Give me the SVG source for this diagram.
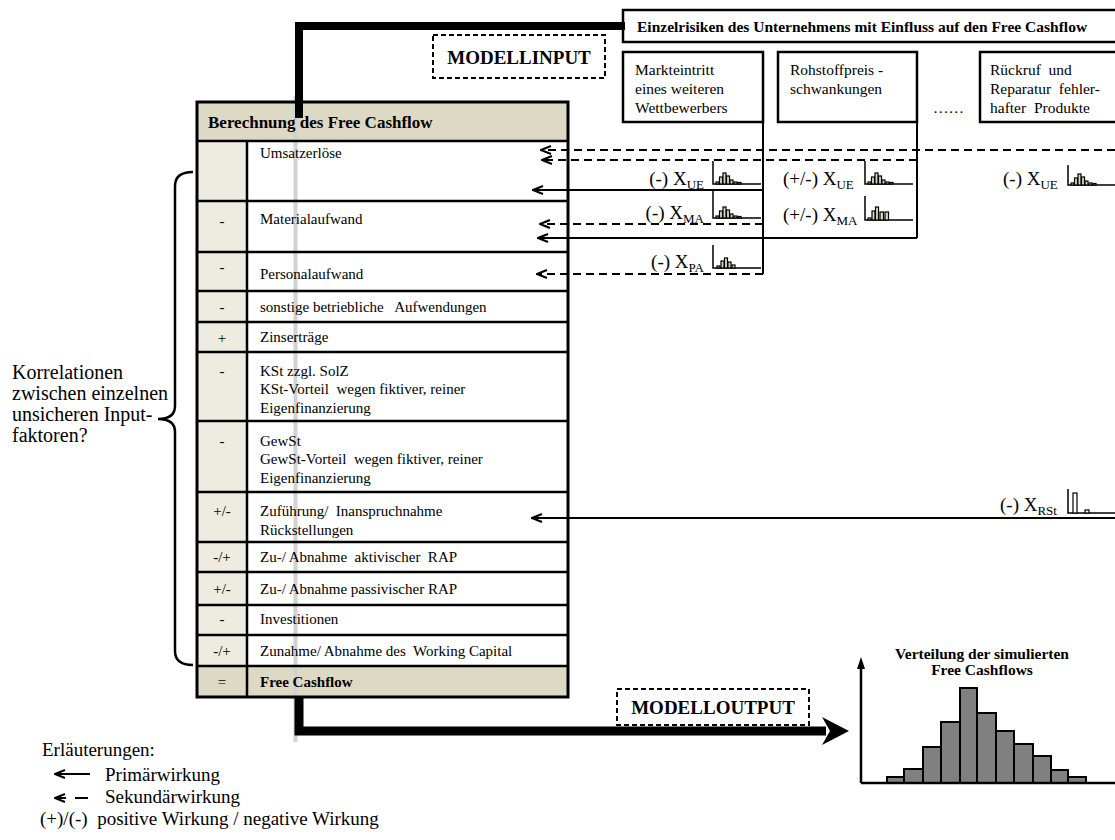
<svg xmlns="http://www.w3.org/2000/svg" width="1115" height="840" viewBox="0 0 1115 840">
<defs>
<style>
text{font-family:"Liberation Serif","Times New Roman",serif;fill:#000;white-space:pre}
.row{font-size:15px}
.b{font-weight:bold}
.sign{font-size:15px;text-anchor:middle}
.box{fill:#fff;stroke:#000;stroke-width:2.5}
.rbox{font-size:15.5px}
.conn{stroke:#000;stroke-width:2;fill:none}
.dash{stroke-dasharray:8 5}
.thick{stroke:#000;stroke-width:8;fill:none}
.ico{fill:none;stroke:#000;stroke-width:1.5}
.bar{fill:#ddd9c4;stroke:#000;stroke-width:1.2}
.lbl{font-size:19px}
.sub{font-size:13px}
.hd{fill:#ddd9c4}
.lc{fill:#eeece1}
.grid{stroke:#000;stroke-width:2.5;fill:none}
.hbar{fill:#808080;stroke:#000;stroke-width:2}
</style>
<marker id="ah" markerWidth="12" markerHeight="10" refX="11" refY="5" orient="auto" markerUnits="userSpaceOnUse">
<path d="M1,1 L11,5 L1,9" fill="none" stroke="#000" stroke-width="2"/>
</marker>
</defs>
<rect width="1115" height="840" fill="#fff"/>

<!-- header of risks -->
<g id="risk-header">
<rect class="box" x="623" y="10" width="510" height="32"/>
<text class="b" x="637" y="32" style="font-size:15.5px">Einzelrisiken des Unternehmens mit Einfluss auf den Free Cashflow</text>
</g>

<g id="modellinput">
<rect x="433" y="35" width="172" height="43" fill="#fff" stroke="#000" stroke-width="2" stroke-dasharray="5 3"/>
<text class="b" x="519" y="64" text-anchor="middle" style="font-size:19px">MODELLINPUT</text>
</g>

<g id="risk1">
<rect class="box" x="623" y="52" width="140" height="70"/>
<text class="rbox" x="635" y="75">Markteintritt</text>
<text class="rbox" x="635" y="94">eines weiteren</text>
<text class="rbox" x="635" y="113">Wettbewerbers</text>
</g>
<g id="risk2">
<rect class="box" x="778" y="52" width="139" height="70"/>
<text class="rbox" x="790" y="75">Rohstoffpreis -</text>
<text class="rbox" x="790" y="94">schwankungen</text>
</g>
<g id="dots">
<text class="rbox" x="933" y="113">……</text>
</g>
<g id="risk3">
<rect class="box" x="980" y="52" width="150" height="70"/>
<text class="rbox" x="990" y="75">Rückruf  und</text>
<text class="rbox" x="990" y="94">Reparatur  fehler-</text>
<text class="rbox" x="990" y="113">hafter  Produkte</text>
</g>

<!-- table -->
<g id="table">
<rect class="hd" x="197" y="102" width="371" height="39"/>
<rect fill="#fff" x="197" y="141" width="371" height="525"/>
<rect class="lc" x="197" y="141" width="50" height="525"/>
<rect class="hd" x="197" y="666" width="371" height="31"/>
<rect x="293.5" y="96" width="4" height="646" fill="#d2d2d2"/>
<g class="grid">
<rect x="197" y="102" width="371" height="595" stroke-width="3"/>
<path d="M247,141 V697"/>
<path d="M197,141 H568 M197,201 H568 M197,252 H568 M197,291 H568 M197,322 H568 M197,352 H568 M197,421 H568 M197,492 H568 M197,542 H568 M197,572 H568 M197,605 H568 M197,635 H568 M197,666 H568"/>
</g>
<text class="b" x="208" y="128" style="font-size:17px">Berechnung des Free Cashflow</text>
<text class="row" x="260" y="158">Umsatzerlöse</text>
<text class="sign" x="222" y="226">-</text>
<text class="row" x="260" y="224">Materialaufwand</text>
<text class="sign" x="222" y="272">-</text>
<text class="row" x="260" y="279">Personalaufwand</text>
<text class="sign" x="222" y="312">-</text>
<text class="row" x="260" y="312">sonstige betriebliche   Aufwendungen</text>
<text class="sign" x="222" y="343">+</text>
<text class="row" x="260" y="342">Zinserträge</text>
<text class="sign" x="222" y="376">-</text>
<text class="row" x="260" y="376">KSt zzgl. SolZ</text>
<text class="row" x="260" y="394">KSt-Vorteil  wegen fiktiver, reiner</text>
<text class="row" x="260" y="413">Eigenfinanzierung</text>
<text class="sign" x="222" y="446">-</text>
<text class="row" x="260" y="446">GewSt</text>
<text class="row" x="260" y="464">GewSt-Vorteil  wegen fiktiver, reiner</text>
<text class="row" x="260" y="483">Eigenfinanzierung</text>
<text class="sign" x="222" y="516">+/-</text>
<text class="row" x="260" y="516">Zuführung/  Inanspruchnahme</text>
<text class="row" x="260" y="535">Rückstellungen</text>
<text class="sign" x="222" y="562">-/+</text>
<text class="row" x="260" y="562">Zu-/ Abnahme  aktivischer  RAP</text>
<text class="sign" x="222" y="594">+/-</text>
<text class="row" x="260" y="594">Zu-/ Abnahme passivischer RAP</text>
<text class="sign" x="222" y="624">-</text>
<text class="row" x="260" y="624">Investitionen</text>
<text class="sign" x="222" y="656">-/+</text>
<text class="row" x="260" y="656">Zunahme/ Abnahme des  Working Capital</text>
<text class="sign" x="222" y="687">=</text>
<text class="row b" x="260" y="687">Free Cashflow</text>
</g>

<!-- connectors -->
<g id="connectors">
<path class="thick" d="M299,118 V26 H625"/>
<path class="conn" d="M763,122 V274"/>
<path class="conn" d="M917,122 V238"/>
<path class="conn dash" d="M1115,150 H541" marker-end="url(#ah)"/>
<path class="conn dash" d="M917,160 H542" marker-end="url(#ah)"/>
<path class="conn" d="M763,190 H533" marker-end="url(#ah)"/>
<path class="conn dash" d="M763,224 H540" marker-end="url(#ah)"/>
<path class="conn" d="M917,238 H538" marker-end="url(#ah)"/>
<path class="conn dash" d="M763,274 H537" marker-end="url(#ah)"/>
<path class="conn" d="M1115,518 H532" marker-end="url(#ah)"/>
<path class="thick" d="M299,697 V731 H826" style="stroke-width:9"/>
<polygon points="849,731 822,717 830,731 822,745" fill="#000"/>
</g>

<!-- risk labels with small distributions -->
<g id="label-ue1">
<text class="lbl" x="704" y="185" text-anchor="end">(-) X<tspan class="sub" dy="4">UE</tspan></text>
<path class="ico" d="M713,161 V184 H761"/>
<rect class="bar" x="716" y="182" width="3" height="2"/><rect class="bar" x="719.5" y="177" width="3" height="7"/><rect class="bar" x="723" y="173" width="3" height="11"/><rect class="bar" x="726.5" y="176" width="3" height="8"/><rect class="bar" x="730" y="180" width="3" height="4"/><rect class="bar" x="734" y="182" width="3" height="2"/><rect class="bar" x="738" y="182.5" width="3" height="1.5"/>
</g>
<g id="label-ma1">
<text class="lbl" x="704" y="219" text-anchor="end">(-) X<tspan class="sub" dy="4">MA</tspan></text>
<path class="ico" d="M713,191 V218 H761"/>
<rect class="bar" x="716" y="216" width="3" height="2"/><rect class="bar" x="719.5" y="211" width="3" height="7"/><rect class="bar" x="723" y="207" width="3" height="11"/><rect class="bar" x="726.5" y="210" width="3" height="8"/><rect class="bar" x="730" y="214" width="3" height="4"/><rect class="bar" x="734" y="216" width="3" height="2"/><rect class="bar" x="738" y="216.5" width="3" height="1.5"/>
</g>
<g id="label-pa1">
<text class="lbl" x="704" y="268" text-anchor="end">(-) X<tspan class="sub" dy="4">PA</tspan></text>
<path class="ico" d="M713,245 V268 H761"/>
<rect class="bar" x="717" y="266" width="3" height="2"/><rect class="bar" x="721" y="261" width="3" height="7"/><rect class="bar" x="724.5" y="258" width="3" height="10"/><rect class="bar" x="728" y="262" width="3" height="6"/><rect class="bar" x="732" y="265" width="3" height="3"/>
</g>
<g id="label-ue2">
<text class="lbl" x="783" y="185">(+/-) X<tspan class="sub" dy="4">UE</tspan></text>
<path class="ico" d="M865,161 V184 H913"/>
<rect class="bar" x="868" y="182" width="3" height="2"/><rect class="bar" x="871.5" y="177" width="3" height="7"/><rect class="bar" x="875" y="173" width="3" height="11"/><rect class="bar" x="878.5" y="176" width="3" height="8"/><rect class="bar" x="882" y="180" width="3" height="4"/><rect class="bar" x="886" y="182" width="3" height="2"/><rect class="bar" x="890" y="182.5" width="3" height="1.5"/>
</g>
<g id="label-ma2">
<text class="lbl" x="783" y="221">(+/-) X<tspan class="sub" dy="4">MA</tspan></text>
<path class="ico" d="M865,196 V220 H913"/>
<rect class="bar" x="868" y="218" width="3" height="2"/><rect class="bar" x="872" y="211" width="3" height="9"/><rect class="bar" x="875.5" y="207" width="3" height="13"/><rect class="bar" x="880" y="212" width="3.5" height="8"/><rect class="bar" x="885" y="212" width="3.5" height="8"/>
</g>
<g id="label-ue3">
<text class="lbl" x="1003" y="185">(-) X<tspan class="sub" dy="4">UE</tspan></text>
<path class="ico" d="M1068,165 V185 H1116"/>
<rect class="bar" x="1071" y="183" width="3" height="2"/><rect class="bar" x="1074.5" y="178" width="3" height="7"/><rect class="bar" x="1078" y="174" width="3" height="11"/><rect class="bar" x="1081.5" y="177" width="3" height="8"/><rect class="bar" x="1085" y="181" width="3" height="4"/><rect class="bar" x="1089" y="183" width="3" height="2"/><rect class="bar" x="1093" y="183.5" width="3" height="1.5"/>
</g>
<g id="label-rst">
<text class="lbl" x="1000" y="511">(-) X<tspan class="sub" dy="4">RSt</tspan></text>
<path class="ico" d="M1068,489 V513 H1116"/>
<rect class="bar" x="1073" y="493" width="4" height="20" style="fill:#fff"/><rect class="bar" x="1085" y="510" width="4" height="3" style="fill:#fff"/>
</g>

<!-- bracket and correlation text -->
<g id="correlation">
<path d="M193,172 Q175,172 175,186 V406 Q175,419 158,419 Q175,419 175,432 V651 Q175,665 193,665" fill="none" stroke="#000" stroke-width="2.5"/>
<text x="12" y="379" style="font-size:20px">Korrelationen</text>
<text x="12" y="400" style="font-size:20px">zwischen einzelnen</text>
<text x="12" y="421" style="font-size:20px">unsicheren Input-</text>
<text x="12" y="442" style="font-size:20px">faktoren?</text>
</g>

<g id="modelloutput">
<rect x="617" y="689" width="192" height="36" fill="#fff" stroke="#000" stroke-width="2" stroke-dasharray="5 3"/>
<text class="b" x="713" y="714" text-anchor="middle" style="font-size:19px">MODELLOUTPUT</text>
</g>

<!-- histogram -->
<g id="histogram">
<text class="b" x="982" y="659" text-anchor="middle" style="font-size:15.5px">Verteilung der simulierten</text>
<text class="b" x="982" y="675" text-anchor="middle" style="font-size:15.5px">Free Cashflows</text>
<rect class="hbar" x="887" y="777" width="17" height="6"/>
<rect class="hbar" x="904" y="769" width="19" height="14"/>
<rect class="hbar" x="923" y="747" width="18" height="36"/>
<rect class="hbar" x="941" y="722" width="19" height="61"/>
<rect class="hbar" x="960" y="688" width="17" height="95"/>
<rect class="hbar" x="977" y="713" width="19" height="70"/>
<rect class="hbar" x="996" y="731" width="18" height="52"/>
<rect class="hbar" x="1014" y="744" width="19" height="39"/>
<rect class="hbar" x="1033" y="756" width="18" height="27"/>
<rect class="hbar" x="1051" y="770" width="17" height="13"/>
<rect class="hbar" x="1068" y="777" width="18" height="6"/>
<path d="M861,783 H1115 M861,783 V668" fill="none" stroke="#000" stroke-width="2.5"/>
<polygon points="861,657 857,669 865,669" fill="#000"/>
</g>

<!-- legend -->
<g id="legend">
<text x="42" y="756" style="font-size:19px">Erläuterungen:</text>
<path class="conn" d="M90,774 H55" marker-end="url(#ah)"/>
<text x="105" y="781" style="font-size:19px">Primärwirkung</text>
<path class="conn" d="M66,798 H55" marker-end="url(#ah)"/>
<path class="conn" d="M75,798 H88"/>
<text x="105" y="803" style="font-size:19px">Sekundärwirkung</text>
<text x="40" y="825" style="font-size:19px">(+)/(-)  positive Wirkung / negative Wirkung</text>
</g>
</svg>
